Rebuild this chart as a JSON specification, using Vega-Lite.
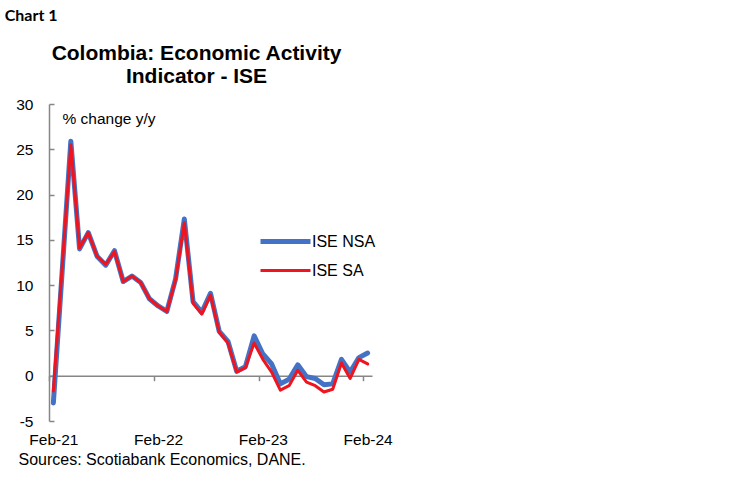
{
  "$schema": "https://vega.github.io/schema/vega-lite/v6.json",
  "autosize": {"type": "pad"},
  "padding": {"left": 4, "top": 8, "right": 5, "bottom": 5},
  "background": "white",
  "config": {
    "view": {"stroke": null},
    "font": "Liberation Sans",
    "axis": {
      "domainColor": "#868686",
      "domainWidth": 1.5,
      "tickColor": "#868686",
      "tickWidth": 1.5,
      "labelColor": "#000000",
      "labelFont": "Liberation Sans",
      "labelFontSize": 15.5,
      "titleColor": "#000000",
      "titleFont": "Liberation Sans",
      "titleFontSize": 15.5,
      "titleFontWeight": "normal",
      "grid": false
    },
    "legend": {
      "title": null,
      "orient": "none",
      "legendX": 219,
      "legendY": 120,
      "symbolType": "M-1.667,0H1.667",
      "symbolSize": 900,
      "labelFontSize": 16,
      "labelColor": "#000000",
      "labelOffset": 9,
      "rowPadding": 2
    }
  },
  "title": {
    "text": "Chart 1",
    "anchor": "start",
    "font": "Lato",
    "fontSize": 16,
    "fontWeight": "bold",
    "color": "#000000",
    "dx": -11,
    "offset": 19
  },
  "vconcat": [
    {
      "width": 323,
      "height": 317,
      "title": {
        "text": ["Colombia: Economic Activity", "Indicator - ISE"],
        "anchor": "middle",
        "font": "Liberation Sans",
        "fontSize": 21,
        "fontWeight": "bold",
        "lineHeight": 23,
        "color": "#000000",
        "dx": -14,
        "offset": 10
      },
      "data": {
        "values": [
          {"month": "Feb-21", "series": "ISE NSA", "value": -3.0},
          {"month": "Mar-21", "series": "ISE NSA", "value": 11.4},
          {"month": "Apr-21", "series": "ISE NSA", "value": 25.9},
          {"month": "May-21", "series": "ISE NSA", "value": 14.0},
          {"month": "Jun-21", "series": "ISE NSA", "value": 15.8},
          {"month": "Jul-21", "series": "ISE NSA", "value": 13.2},
          {"month": "Aug-21", "series": "ISE NSA", "value": 12.2},
          {"month": "Sep-21", "series": "ISE NSA", "value": 13.8},
          {"month": "Oct-21", "series": "ISE NSA", "value": 10.4},
          {"month": "Nov-21", "series": "ISE NSA", "value": 11.0},
          {"month": "Dec-21", "series": "ISE NSA", "value": 10.3},
          {"month": "Jan-22", "series": "ISE NSA", "value": 8.5},
          {"month": "Feb-22", "series": "ISE NSA", "value": 7.7},
          {"month": "Mar-22", "series": "ISE NSA", "value": 7.1},
          {"month": "Apr-22", "series": "ISE NSA", "value": 10.7},
          {"month": "May-22", "series": "ISE NSA", "value": 17.3},
          {"month": "Jun-22", "series": "ISE NSA", "value": 8.2},
          {"month": "Jul-22", "series": "ISE NSA", "value": 7.0},
          {"month": "Aug-22", "series": "ISE NSA", "value": 9.1},
          {"month": "Sep-22", "series": "ISE NSA", "value": 4.9},
          {"month": "Oct-22", "series": "ISE NSA", "value": 3.8},
          {"month": "Nov-22", "series": "ISE NSA", "value": 0.5},
          {"month": "Dec-22", "series": "ISE NSA", "value": 1.0},
          {"month": "Jan-23", "series": "ISE NSA", "value": 4.4},
          {"month": "Feb-23", "series": "ISE NSA", "value": 2.4},
          {"month": "Mar-23", "series": "ISE NSA", "value": 1.3},
          {"month": "Apr-23", "series": "ISE NSA", "value": -0.9},
          {"month": "May-23", "series": "ISE NSA", "value": -0.4},
          {"month": "Jun-23", "series": "ISE NSA", "value": 1.2},
          {"month": "Jul-23", "series": "ISE NSA", "value": -0.1},
          {"month": "Aug-23", "series": "ISE NSA", "value": -0.3},
          {"month": "Sep-23", "series": "ISE NSA", "value": -1.0},
          {"month": "Oct-23", "series": "ISE NSA", "value": -0.9},
          {"month": "Nov-23", "series": "ISE NSA", "value": 1.8},
          {"month": "Dec-23", "series": "ISE NSA", "value": 0.4},
          {"month": "Jan-24", "series": "ISE NSA", "value": 2.0},
          {"month": "Feb-24", "series": "ISE NSA", "value": 2.5},
          {"month": "Feb-21", "series": "ISE SA", "value": -1.7},
          {"month": "Mar-21", "series": "ISE SA", "value": 11.9},
          {"month": "Apr-21", "series": "ISE SA", "value": 25.5},
          {"month": "May-21", "series": "ISE SA", "value": 14.1},
          {"month": "Jun-21", "series": "ISE SA", "value": 15.8},
          {"month": "Jul-21", "series": "ISE SA", "value": 13.2},
          {"month": "Aug-21", "series": "ISE SA", "value": 12.3},
          {"month": "Sep-21", "series": "ISE SA", "value": 13.7},
          {"month": "Oct-21", "series": "ISE SA", "value": 10.4},
          {"month": "Nov-21", "series": "ISE SA", "value": 11.0},
          {"month": "Dec-21", "series": "ISE SA", "value": 10.3},
          {"month": "Jan-22", "series": "ISE SA", "value": 8.5},
          {"month": "Feb-22", "series": "ISE SA", "value": 7.7},
          {"month": "Mar-22", "series": "ISE SA", "value": 7.1},
          {"month": "Apr-22", "series": "ISE SA", "value": 10.6},
          {"month": "May-22", "series": "ISE SA", "value": 16.9},
          {"month": "Jun-22", "series": "ISE SA", "value": 8.0},
          {"month": "Jul-22", "series": "ISE SA", "value": 6.8},
          {"month": "Aug-22", "series": "ISE SA", "value": 8.9},
          {"month": "Sep-22", "series": "ISE SA", "value": 4.8},
          {"month": "Oct-22", "series": "ISE SA", "value": 3.6},
          {"month": "Nov-22", "series": "ISE SA", "value": 0.4},
          {"month": "Dec-22", "series": "ISE SA", "value": 0.9},
          {"month": "Jan-23", "series": "ISE SA", "value": 3.6},
          {"month": "Feb-23", "series": "ISE SA", "value": 1.8},
          {"month": "Mar-23", "series": "ISE SA", "value": 0.4},
          {"month": "Apr-23", "series": "ISE SA", "value": -1.6},
          {"month": "May-23", "series": "ISE SA", "value": -1.1},
          {"month": "Jun-23", "series": "ISE SA", "value": 0.6},
          {"month": "Jul-23", "series": "ISE SA", "value": -0.7},
          {"month": "Aug-23", "series": "ISE SA", "value": -1.1},
          {"month": "Sep-23", "series": "ISE SA", "value": -1.8},
          {"month": "Oct-23", "series": "ISE SA", "value": -1.5},
          {"month": "Nov-23", "series": "ISE SA", "value": 1.4},
          {"month": "Dec-23", "series": "ISE SA", "value": -0.3},
          {"month": "Jan-24", "series": "ISE SA", "value": 1.8},
          {"month": "Feb-24", "series": "ISE SA", "value": 1.3}
        ]
      },
      "mark": {"type": "line", "strokeJoin": "round", "strokeCap": "round"},
      "encoding": {
        "x": {
          "field": "month",
          "type": "ordinal",
          "sort": null,
          "scale": {"type": "point", "padding": 0.5},
          "axis": {
            "values": ["Feb-21", "Feb-22", "Feb-23", "Feb-24"],
            "labelAngle": 0,
            "offset": -45.3,
            "tickSize": 5,
            "tickOffset": -4.36,
            "labelOffset": 4.36,
            "labelPadding": 52,
            "title": "Sources: Scotiabank Economics, DANE.",
            "titleFontSize": 16,
            "titleAlign": "left",
            "titleBaseline": "alphabetic",
            "titleX": -31,
            "titleY": 89
          }
        },
        "y": {
          "field": "value",
          "type": "quantitative",
          "scale": {"domain": [-5, 30], "nice": false, "zero": false},
          "axis": {
            "values": [-5, 0, 5, 10, 15, 20, 25, 30],
            "labelExpr": "'' + datum.value",
            "tickSize": -5,
            "labelPadding": 21,
            "title": "% change y/y",
            "titleAngle": 0,
            "titleAlign": "left",
            "titleBaseline": "alphabetic",
            "titleX": 13,
            "titleY": 19
          }
        },
        "color": {
          "field": "series",
          "type": "nominal",
          "scale": {"domain": ["ISE NSA", "ISE SA"], "range": ["#4472C4", "#F0141E"]}
        },
        "strokeWidth": {
          "field": "series",
          "type": "nominal",
          "scale": {"domain": ["ISE NSA", "ISE SA"], "range": [5, 3]}
        }
      }
    }
  ]
}
